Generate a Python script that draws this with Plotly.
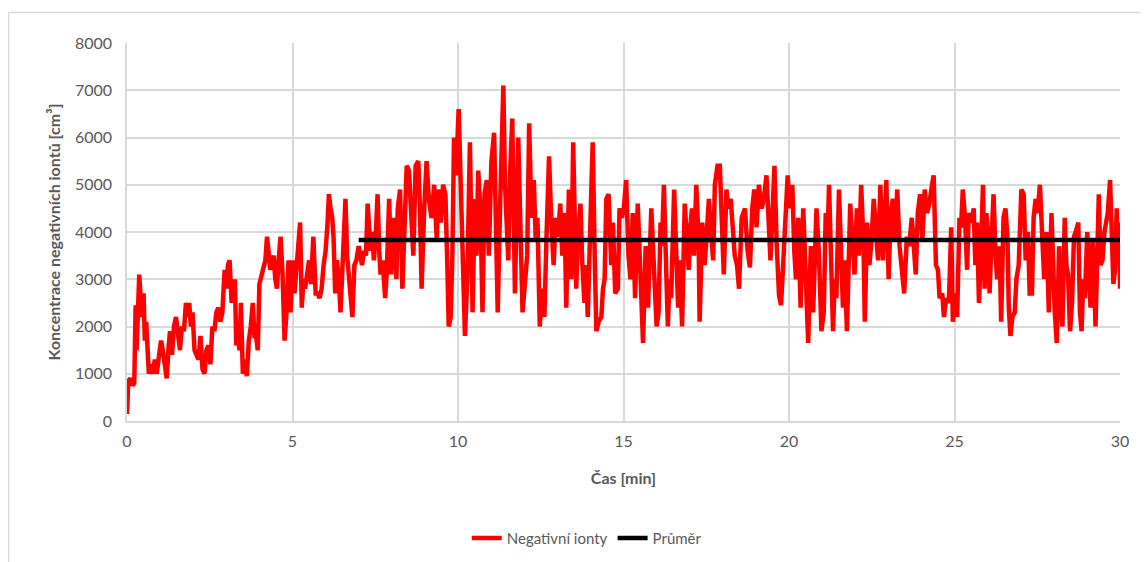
import plotly.graph_objects as go

# Time [min] and concentration of negative ions [cm^-3]
time_min = [
    0, 0.04, 0.1, 0.17, 0.22, 0.26, 0.29, 0.32, 0.37, 0.42, 0.46, 0.5, 0.54, 0.58, 0.62, 0.66, 0.72, 0.78, 0.84, 0.9,
    0.97, 1.03, 1.08, 1.14, 1.2, 1.26, 1.3, 1.36, 1.42, 1.48, 1.53, 1.6, 1.66, 1.72, 1.78, 1.84, 1.88, 1.93, 1.98, 2.04,
    2.1, 2.16, 2.22, 2.28, 2.34, 2.4, 2.46, 2.52, 2.58, 2.64, 2.7, 2.76, 2.82, 2.88, 2.95, 3.0, 3.05, 3.1, 3.16, 3.22,
    3.26, 3.3, 3.35, 3.4, 3.44, 3.5, 3.56, 3.62, 3.68, 3.74, 3.8, 3.85, 3.9, 3.95, 4.0, 4.06, 4.12, 4.18, 4.23, 4.28,
    4.33, 4.38, 4.43, 4.48, 4.53, 4.58, 4.64, 4.7, 4.76, 4.82, 4.88, 4.94,
    5.0, 5.06, 5.12, 5.16, 5.23, 5.28, 5.33, 5.38, 5.43, 5.5, 5.56, 5.63, 5.7, 5.76, 5.82, 5.88, 5.94, 6.0, 6.06, 6.1,
    6.15, 6.2, 6.24, 6.29, 6.34, 6.4, 6.45, 6.5, 6.55, 6.6, 6.65, 6.7, 6.75, 6.81, 6.87, 6.93, 7.0, 7.05, 7.1, 7.16,
    7.22, 7.27, 7.32, 7.36, 7.4, 7.46, 7.52, 7.57, 7.62, 7.66, 7.72, 7.8, 7.85, 7.92, 7.98, 8.05, 8.1, 8.14, 8.18, 8.25,
    8.32, 8.38, 8.45, 8.52, 8.58, 8.65, 8.72, 8.8, 8.85, 8.9, 8.98, 9.05, 9.12, 9.2, 9.28, 9.36, 9.4, 9.48, 9.55, 9.62,
    9.67, 9.72, 9.78, 9.83, 9.88, 9.94,
    10.02, 10.1, 10.16, 10.21, 10.28, 10.36, 10.44, 10.51, 10.56, 10.61, 10.68, 10.74, 10.8, 10.87, 10.93, 11.01, 11.09,
    11.14, 11.2, 11.27, 11.37, 11.42, 11.47, 11.52, 11.57, 11.64, 11.72, 11.77, 11.82, 11.89, 11.95, 12.02, 12.09, 12.15,
    12.22, 12.29, 12.35, 12.4, 12.47, 12.54, 12.61, 12.67, 12.75, 12.82, 12.89, 12.95, 13.02, 13.09, 13.15, 13.22, 13.27,
    13.35, 13.42, 13.48, 13.57, 13.63, 13.7, 13.75, 13.82, 13.87, 13.92, 14.0, 14.07, 14.13, 14.18, 14.25, 14.33, 14.38,
    14.43, 14.48, 14.55, 14.63, 14.68, 14.75, 14.83, 14.88, 14.95,
    15.01, 15.08, 15.15, 15.21, 15.28, 15.35, 15.43, 15.52, 15.59, 15.67, 15.74, 15.84, 15.91, 16.0, 16.06, 16.12, 16.16,
    16.22, 16.29, 16.34, 16.39, 16.44, 16.53, 16.6, 16.65, 16.7, 16.77, 16.85, 16.9, 16.97, 17.03, 17.07, 17.13, 17.2,
    17.27, 17.3, 17.38, 17.45, 17.5, 17.58, 17.64, 17.71, 17.76, 17.84, 17.91, 17.96, 18.03, 18.11, 18.16, 18.24, 18.31,
    18.36, 18.43, 18.49, 18.57, 18.67, 18.75, 18.82, 18.89, 18.95, 19.02, 19.09, 19.17, 19.24, 19.32, 19.39, 19.44, 19.49,
    19.56, 19.63, 19.7, 19.76, 19.83, 19.9, 19.96,
    20.03, 20.1, 20.16, 20.21, 20.28, 20.35, 20.43, 20.51, 20.58, 20.66, 20.73, 20.83, 20.9, 20.98, 21.05, 21.11, 21.16,
    21.21, 21.28, 21.33, 21.38, 21.43, 21.51, 21.58, 21.63, 21.68, 21.75, 21.85, 21.91, 21.98, 22.05, 22.11, 22.18, 22.25,
    22.29, 22.36, 22.43, 22.49, 22.56, 22.62, 22.69, 22.76, 22.84, 22.94, 23.01, 23.07, 23.14, 23.19, 23.27, 23.34, 23.41,
    23.48, 23.56, 23.63, 23.71, 23.76, 23.83, 23.89, 23.96, 24.03, 24.1, 24.17, 24.24, 24.32, 24.37, 24.44, 24.5, 24.55,
    24.63, 24.68, 24.75, 24.83, 24.9, 24.95,
    25.02, 25.08, 25.15, 25.2, 25.25, 25.32, 25.38, 25.43, 25.51, 25.58, 25.63, 25.68, 25.74, 25.79, 25.86, 25.91, 25.96,
    26.01, 26.06, 26.11, 26.18, 26.24, 26.29, 26.36, 26.41, 26.48, 26.54, 26.6, 26.64, 26.69, 26.75, 26.82, 26.87, 26.94,
    27.02, 27.09, 27.15, 27.22, 27.27, 27.34, 27.39, 27.45, 27.51, 27.58, 27.65, 27.71, 27.78, 27.85, 27.93, 27.98, 28.03,
    28.09, 28.16, 28.21, 28.26, 28.33, 28.38, 28.43, 28.49, 28.55, 28.61, 28.66, 28.74, 28.79, 28.84, 28.89, 28.94, 29.01,
    29.06, 29.11, 29.17, 29.21, 29.26, 29.31, 29.36, 29.41, 29.47, 29.53, 29.58, 29.63, 29.7, 29.75, 29.8, 29.85, 29.9,
    29.95, 29.98, 30.0,
]

neg_ions = [
    150, 850, 900, 750, 800, 2450, 1500, 2500, 3100, 2500, 2200, 2700, 1700, 2100, 1300, 1000, 1200, 1000, 1300, 1000,
    1400, 1700, 1500, 1200, 900, 1600, 1900, 1400, 2000, 2200, 1900, 1500, 2000, 1900, 2500, 2200, 2500, 2000, 2300, 1500,
    1400, 1300, 1800, 1100, 1000, 1500, 1600, 1200, 2000, 1900, 2300, 2400, 2100, 2300, 3200, 2800, 3300, 3400, 2500, 2700,
    3000, 1600, 1800, 1500, 2500, 1000, 1300, 950, 1700, 2000, 2500, 1800, 1800, 1500, 2900, 3100, 3200, 3400, 3900, 3500,
    3200, 3400, 3500, 3000, 2800, 3400, 3900, 3100, 1700, 2300, 3400, 2300,
    3400, 2700, 3300, 3800, 4200, 2400, 3000, 2800, 3000, 3400, 2900, 3900, 2700, 2700, 2600, 2800, 3300, 3600, 4200, 4800,
    4500, 4300, 3900, 2700, 3400, 3000, 2300, 3200, 4000, 4700, 3500, 3000, 2600, 2200, 3300, 3400, 3700, 3500, 3300, 3600,
    3500, 4600, 3800, 3600, 4000, 3400, 4000, 4800, 3600, 3100, 3400, 2600, 3200, 4700, 3100, 4300, 3600, 3000, 4500, 4900,
    2800, 4100, 5400, 5300, 4600, 3500, 5400, 5500, 4500, 2800, 4500, 5500, 4700, 4300, 5000, 3800, 4900, 4200, 5000, 4800,
    3500, 2000, 2200, 3500, 6000, 5200,
    6600, 4300, 3500, 1800, 3000, 5900, 2300, 4700, 3500, 5300, 4400, 2300, 4800, 5100, 3500, 5500, 6100,
    4200, 2300, 4500, 7100, 5000, 4400, 3400, 5200, 6400, 2700, 4200, 6000, 4000, 2300, 2900, 3500, 6300,
    4300, 5100, 3800, 4300, 2000, 2800, 2200, 3800, 5600, 4200, 3300, 4300, 3900, 4600, 3500, 4400, 2400,
    4900, 3000, 5900, 2800, 4000, 4600, 3400, 2500, 3300, 2200, 4200, 5900, 3500, 1900, 2100, 2200, 2800,
    3000, 4700, 4800, 3300, 4200, 2700, 2800, 4500, 4300,
    4500, 5100, 3500, 3000, 4400, 2600, 4600, 2800, 1650, 3700, 2400, 4500, 3500, 2000, 2300, 4200, 3700,
    5000, 3200, 2000, 3000, 2600, 4900, 3600, 2400, 3400, 2000, 4600, 3800, 3200, 4200, 4500, 3500, 5000,
    3800, 2100, 4200, 3300, 3800, 4700, 4000, 3400, 5000, 5400, 5400, 4200, 3100, 4900, 4500, 4700, 4000,
    3500, 3300, 2800, 4300, 4500, 3600, 3250, 4500, 4900, 4100, 5000, 4500, 4700, 5200, 4300, 3400, 4200,
    5400, 3700, 2650, 2450, 3400, 4200, 5200,
    4500, 5000, 3600, 3000, 4300, 2400, 4500, 2800, 1650, 3700, 2300, 4500, 3600, 1900, 2300, 4400, 3800,
    5000, 3200, 1900, 3000, 2600, 4900, 3600, 2400, 3400, 1900, 4600, 3800, 3100, 4500, 3500, 5000, 3800,
    2100, 4200, 3300, 3800, 4700, 4100, 3400, 5000, 3400, 5100, 3000, 4400, 4700, 3800, 4900, 3700, 3200,
    2700, 3900, 3700, 4300, 3700, 3100, 4400, 4800, 3800, 4900, 4400, 4600, 5000, 5200, 3300, 3200, 2600,
    2700, 2200, 2600, 2500, 4100, 2100,
    2700, 2200, 4300, 4100, 4900, 4300, 3200, 4400, 4200, 4500, 3300, 4200, 2500, 3400, 5000, 2800, 4400,
    4000, 2700, 3700, 4800, 3500, 3000, 3700, 2100, 4300, 4500, 3900, 2400, 1800, 2200, 2300, 3000, 3300,
    4900, 4800, 3400, 4000, 2700, 2700, 4300, 4700, 4400, 5000, 3800, 3000, 4000, 2300, 4400, 3000, 2300,
    1650, 3700, 2500, 2000, 4300, 3300, 3100, 1900, 2500, 3900, 4000, 4200, 2300, 1900, 3000, 2600, 4000,
    3300, 2400, 3800, 3300, 2000, 3400, 4800, 3300, 3400, 4000, 4200, 4400, 5100, 3700, 2900, 3200, 4500,
    3300, 4200, 2800,
]

mean_x = [7, 30]
mean_value = [3830, 3830]

x_ticks = [0, 5, 10, 15, 20, 25, 30]
y_ticks = [0, 1000, 2000, 3000, 4000, 5000, 6000, 7000, 8000]

series_names = ["Negativní ionty", "Průměr"]
x_title = "Čas [min]"
y_title = "Koncentrace negativních iontů [cm³]"

FONT = "Lato, 'Open Sans', sans-serif"
GRAY = "#595959"
GRID = "#d9d9d9"

fig = go.Figure()
fig.add_trace(go.Scatter(
    x=time_min, y=neg_ions, mode="lines", name=series_names[0],
    line=dict(color="#ff0000", width=4.5),
))
fig.add_trace(go.Scatter(
    x=mean_x, y=mean_value, mode="lines", name=series_names[1],
    line=dict(color="#000000", width=4.5),
))

fig.update_layout(
    width=1148, height=562,
    margin=dict(l=119, r=36, t=35, b=149),
    paper_bgcolor="white", plot_bgcolor="white",
    font=dict(family=FONT, color=GRAY, size=15),
    showlegend=True,
    legend=dict(
        orientation="h", x=0.463, xanchor="center", y=-0.31, yanchor="middle",
        font=dict(family=FONT, size=15, color=GRAY), bgcolor="rgba(0,0,0,0)",
        traceorder="normal",
    ),
    shapes=[
        dict(type="line", xref="paper", yref="paper",
             x0=-0.1193, x1=1.04, y0=1.0807, y1=1.0807,
             line=dict(color="#d9d9d9", width=1.5), layer="below"),
        dict(type="line", xref="paper", yref="paper",
             x0=-0.1193, x1=-0.1193, y0=1.0807, y1=-0.40,
             line=dict(color="#d9d9d9", width=1.5), layer="below"),
    ],
)

fig.update_xaxes(
    range=[0, 30], tickvals=x_ticks, ticktext=[str(v) for v in x_ticks],
    showgrid=True, gridcolor=GRID, gridwidth=1.5,
    showline=True, linecolor=GRID, linewidth=1.5, zeroline=False,
    ticks="", ticklabelstandoff=5, tickfont=dict(family=FONT, size=16, color=GRAY),
    title=dict(text="<b>" + x_title + "</b>", font=dict(family=FONT, size=16, color=GRAY), standoff=24),
)
fig.update_yaxes(
    range=[0, 8000], tickvals=y_ticks, ticktext=[str(v) for v in y_ticks],
    showgrid=True, gridcolor=GRID, gridwidth=1.5,
    showline=True, linecolor=GRID, linewidth=1.5, zeroline=False,
    ticks="", ticklabelstandoff=10, tickfont=dict(family=FONT, size=16, color=GRAY),
    title=dict(text="<b>" + y_title + "</b>", font=dict(family=FONT, size=16, color=GRAY), standoff=10),
)

fig.write_html("out.html")
